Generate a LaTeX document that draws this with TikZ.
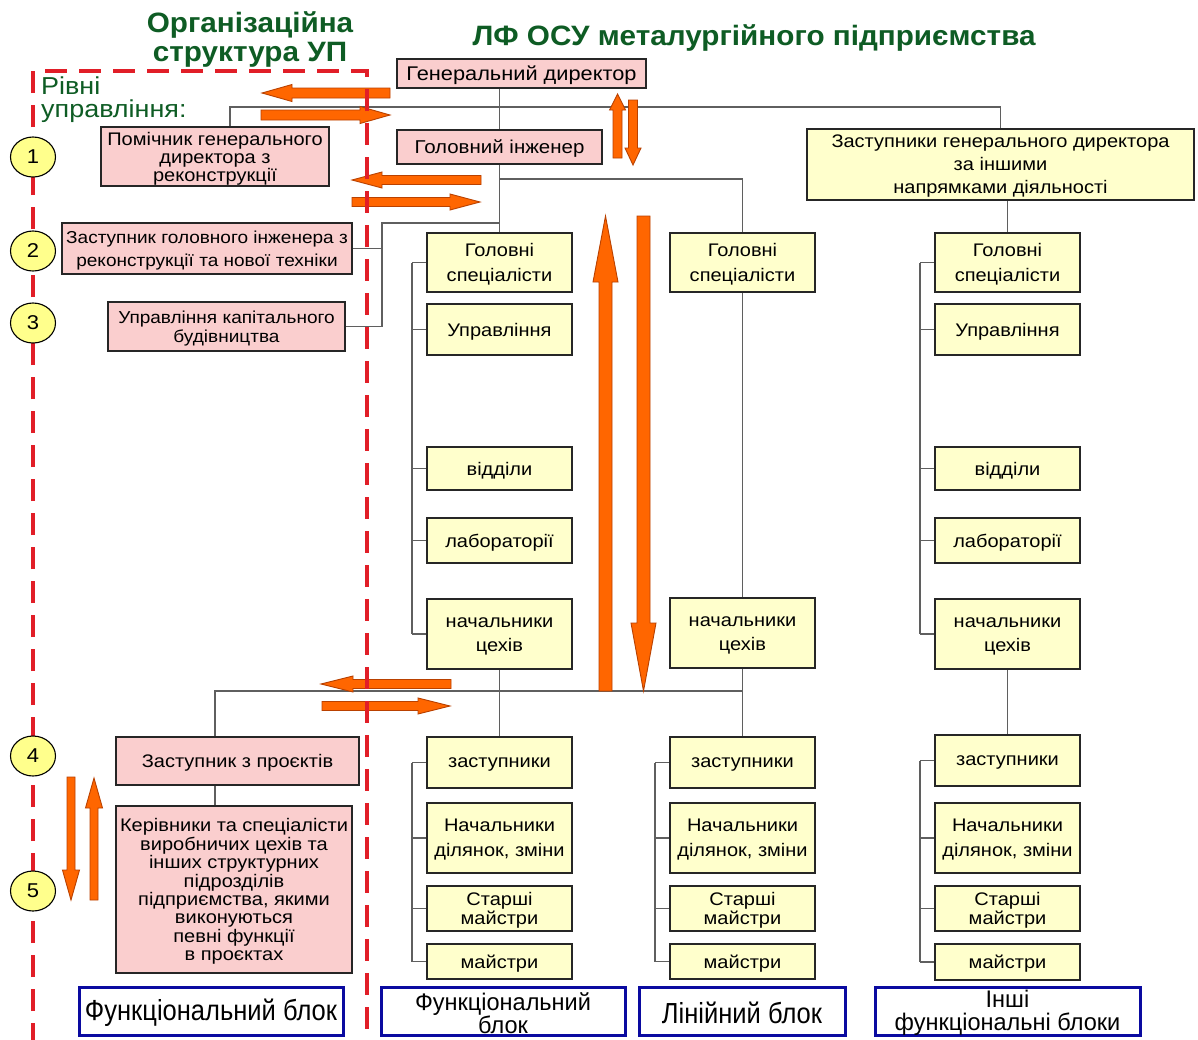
\documentclass[tikz,border=0pt]{standalone}
\usepackage{fontspec}
\setmainfont{Liberation Sans}[FakeStretch=1.1]
\newfontfamily\titlefont{Liberation Sans}[FakeStretch=1.06]
\newfontfamily\narrowfont{Liberation Sans}[FakeStretch=0.88]
\newfontfamily\capfont{Liberation Sans}[FakeStretch=0.98]
\usetikzlibrary{shapes.geometric}

\definecolor{pinkfill}{RGB}{250,206,206}
\definecolor{yelfill}{RGB}{255,255,204}
\definecolor{circfill}{RGB}{255,255,140}
\definecolor{arrfill}{RGB}{255,102,0}
\definecolor{arrline}{RGB}{185,65,0}
\definecolor{dashred}{RGB}{225,30,40}
\definecolor{titlegreen}{RGB}{14,92,36}
\definecolor{blockblue}{RGB}{10,10,160}
\definecolor{wirecol}{RGB}{95,95,95}

% box given by its left, right, top and bottom edges; #1 = options of its text
\newcommand\placebox[8][ls=20]{%
  \pgfmathsetmacro\boxw{#5-#4}\pgfmathsetmacro\boxh{#7-#6}%
  \node[#2, minimum width=\boxw pt, minimum height=\boxh pt] (#3) at ({(#4+#5)/2},{(#6+#7)/2}) {};
  \node[boxtext, #1] at ([yshift=-2pt]#3.center) {#8};}

% block arrow: tail x, tail y, direction, length, shaft half width, head half width, head length
\newcommand\fatarrow[7]{%
  \filldraw[fat, shift={(#1,#2)}, rotate=#3]
    (0,-#5) -- ({#4-#7},-#5) -- ({#4-#7},-#6) -- (#4,0) -- ({#4-#7},#6)
    -- ({#4-#7},#5) -- (0,#5) -- cycle;}

\begin{document}
\begin{tikzpicture}[x=1pt,y=-1pt,
  box/.style={draw=black!85, line width=1.6pt, inner sep=0pt},
  boxtext/.style={align=center, inner sep=0pt},
  ls/.style={font=\fontsize{18.2}{#1}\selectfont},
  lsz/.style 2 args={font=\fontsize{#1}{#2}\selectfont},
  pinkbox/.style={box, fill=pinkfill},
  yelbox/.style={box, fill=yelfill},
  blockbox/.style={draw=blockblue, line width=3pt, fill=white, inner sep=0pt},
  capone/.style={font=\narrowfont\fontsize{29}{24}\selectfont},
  captwo/.style={font=\capfont\fontsize{24}{22.5}\selectfont},
  level/.style={ellipse, draw=black, line width=1.1pt, fill=circfill,
    minimum width=45pt, minimum height=40pt, inner sep=0pt,
    font=\fontsize{20}{20}\selectfont},
  wire/.style={draw=wirecol, line width=1.3pt},
  fat/.style={fill=arrfill, draw=arrline, line width=0.9pt, line join=miter},
  redline/.style={draw=dashred, line width=4pt, dash pattern=on 22pt off 12pt},
  title/.style={text=titlegreen, align=center, inner sep=0pt,
    font=\titlefont\bfseries\fontsize{28}{29}\selectfont}]
\useasboundingbox[fill=white] (0,0) rectangle (1198,1039);

% headings
\node[title] (orgtitle) at (250,39) {Організаційна\\структура УП};
\node[title] (lftitle) at (754,38) {ЛФ ОСУ металургійного підприємства};
\node[anchor=north west, align=left, inner sep=0pt, text=titlegreen,
  font=\fontsize{24.5}{23}\selectfont] (levels) at (41,77) {Рівні\\управління:};

% management boxes
\placebox[lsz={19.8}{20}]{pinkbox}{gd}{397}{646}{59}{88}{Генеральний директор}
\placebox[ls=18]{pinkbox}{pom}{101}{329}{127}{186}{Помічник генерального\\директора з\\реконструкції}
\placebox[lsz={18.6}{20}]{pinkbox}{gi}{397}{602}{130}{164}{Головний інженер}
\placebox[lsz={17.3}{23}]{pinkbox}{zgi}{62}{352}{223}{274}{Заступник головного інженера з\\реконструкції та нової техніки}
\placebox[lsz={17.3}{19}]{pinkbox}{ukb}{108}{345}{302}{351}{Управління капітального\\будівництва}
\placebox{pinkbox}{zp}{116}{359}{737}{785}{Заступник з проєктів}
\placebox[ls=18.4]{pinkbox}{ker}{116}{352}{806}{973}{Керівники та спеціалісти\\виробничих цехів та\\інших структурних\\підрозділів\\підприємства, якими\\виконуються\\певні функції\\в проєктах}
\placebox[ls=23]{yelbox}{zgd}{807}{1194}{129}{200}{Заступники генерального директора\\за іншими\\напрямками діяльності}

% functional block (left column)
\placebox[ls=25]{yelbox}{gsa}{427}{572}{233}{292}{Головні\\спеціалісти}
\placebox{yelbox}{upa}{427}{572}{304}{355}{Управління}
\placebox{yelbox}{vida}{427}{572}{447}{490}{відділи}
\placebox{yelbox}{laba}{427}{572}{518}{563}{лабораторії}
\placebox[ls=24]{yelbox}{nca}{427}{572}{599}{669}{начальники\\цехів}
\placebox{yelbox}{zasa}{427}{572}{737}{788}{заступники}
\placebox[ls=25]{yelbox}{nda}{427}{572}{803}{873}{Начальники\\ділянок, зміни}
\placebox[ls=19]{yelbox}{sma}{427}{572}{886}{931}{Старші\\майстри}
\placebox{yelbox}{ma}{427}{572}{944}{979}{майстри}

% linear block (middle column)
\placebox[ls=25]{yelbox}{gsb}{670}{815}{233}{292}{Головні\\спеціалісти}
\placebox[ls=24]{yelbox}{ncb}{670}{815}{598}{668}{начальники\\цехів}
\placebox{yelbox}{zasb}{670}{815}{737}{788}{заступники}
\placebox[ls=25]{yelbox}{ndb}{670}{815}{803}{873}{Начальники\\ділянок, зміни}
\placebox[ls=19]{yelbox}{smb}{670}{815}{886}{931}{Старші\\майстри}
\placebox{yelbox}{mb}{670}{815}{944}{979}{майстри}

% other functional blocks (right column)
\placebox[ls=25]{yelbox}{gsc}{935}{1080}{233}{292}{Головні\\спеціалісти}
\placebox{yelbox}{upc}{935}{1080}{304}{355}{Управління}
\placebox{yelbox}{vidc}{935}{1080}{447}{490}{відділи}
\placebox{yelbox}{labc}{935}{1080}{518}{563}{лабораторії}
\placebox[ls=24]{yelbox}{ncc}{935}{1080}{599}{669}{начальники\\цехів}
\placebox{yelbox}{zasc}{935}{1080}{735}{786}{заступники}
\placebox[ls=25]{yelbox}{ndc}{935}{1080}{803}{873}{Начальники\\ділянок, зміни}
\placebox[ls=19]{yelbox}{smc}{935}{1080}{886}{931}{Старші\\майстри}
\placebox{yelbox}{mc}{935}{1080}{944}{980}{майстри}

% block captions
\placebox[capone]{blockbox}{capa}{79}{343}{987}{1035}{Функціональний блок}
\placebox[captwo]{blockbox}{capb}{381}{625}{987}{1035}{Функціональний\\блок}
\placebox[capone]{blockbox}{capc}{639}{845}{987}{1035}{Лінійний блок}
\placebox[captwo]{blockbox}{capd}{875}{1140}{987}{1035}{Інші\\функціональні блоки}

% junction points of the tree
\coordinate (topl) at (230,107);
\coordinate (topr) at (1000.5,107);
\coordinate (gij) at (499.5,179);
\coordinate (gik) at (499.5,223);
\coordinate (rec) at (382,223);
\coordinate (prj) at (215,691);
\coordinate (busr) at (742.5,691);
\coordinate (brka) at (412,0);
\coordinate (brkb) at (655,0);
\coordinate (brkc) at (920,0);

% tree connectors
\draw[wire] (gi.north |- gd.south) -- (gi.north);
\draw[wire] (topl |- pom.north) -- (topl) -- (topr) -- (zgd.north);
\draw[wire] (gi.south) -- (gsa.north);
\draw[wire] (gij) -- (gij -| gsb.north) -- (gsb.north);
\draw[wire] (gik) -- (rec) -- (rec |- ukb.east) -- (ukb.east);
\draw[wire] (zgi.east) -- (zgi.east -| rec);
\draw[wire] (gsc.north |- zgd.south) -- (gsc.north);
\draw[wire] (gsb.south) -- (ncb.north);
\draw[wire] (nca.south) -- (zasa.north);
\draw[wire] (ncb.south) -- (zasb.north);
\draw[wire] (ncc.south) -- (zasc.north);
\draw[wire] (prj |- zp.north) -- (prj) -- (busr);
\draw[wire] (prj |- zp.south) -- (prj |- ker.north);
\foreach \col/\brk in {a/brka,c/brkc}{
  \draw[wire] (\brk |- gs\col.west) -- (\brk |- nc\col.west);
  \foreach \bx in {gs,up,vid,lab,nc}
    \draw[wire] (\brk |- \bx\col.west) -- (\bx\col.west);
}
\foreach \col/\brk in {a/brka,b/brkb,c/brkc}{
  \draw[wire] (\brk |- zas\col.west) -- (\brk |- m\col.west);
  \foreach \bx in {zas,nd,sm,m}
    \draw[wire] (\brk |- \bx\col.west) -- (\bx\col.west);
}

% information flows
\fatarrow{390}{93}{180}{128}{5}{8.5}{30}
\fatarrow{261}{115}{0}{129}{5}{8.5}{30}
\fatarrow{481}{180}{180}{129}{4.5}{8}{30}
\fatarrow{352}{202}{0}{128}{4.5}{8}{30}
\fatarrow{451}{684}{180}{130}{4.5}{8}{32}
\fatarrow{322}{706}{0}{128}{4.5}{8}{32}
\fatarrow{617.5}{158}{90}{64}{4.5}{8}{16}
\fatarrow{633}{100}{-90}{65}{4.5}{8}{17}
\fatarrow{605.5}{691}{90}{475}{6.5}{12.5}{66}
\fatarrow{643.5}{216}{-90}{475}{6.5}{12.5}{68}
\fatarrow{71}{777}{-90}{123}{4}{8.5}{30}
\fatarrow{94}{900}{90}{122}{4}{8.5}{30}

% boundary of the enterprise management structure
\draw[redline] (33,1045) -- (33,71) -- (367,71) -- (367,1045);

% management levels
\node[level] (l1) at (33,157) {1};
\node[level] (l2) at (33,251) {2};
\node[level] (l3) at (33,323) {3};
\node[level] (l4) at (33,756) {4};
\node[level] (l5) at (33,891) {5};
\end{tikzpicture}
\end{document}
